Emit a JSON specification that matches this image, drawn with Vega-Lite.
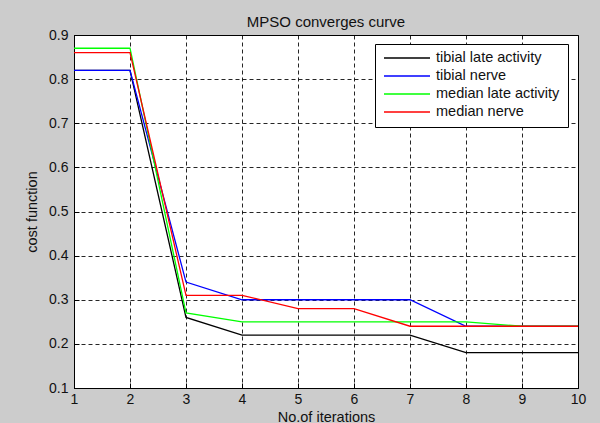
{
  "$schema": "https://vega.github.io/schema/vega-lite/v6.json",
  "autosize": {"type": "none"},
  "width": 504,
  "height": 353,
  "padding": {"left": 74, "top": 35, "right": 22, "bottom": 35},
  "background": "#cccccc",
  "title": {"text": "MPSO converges curve", "fontSize": 15, "fontWeight": "normal", "font": "Liberation Sans", "color": "#111", "offset": -2},
  "config": {
    "view": {"fill": "white", "stroke": "black", "strokeWidth": 1},
    "font": "Liberation Sans"
  },
  "data": {"values": [
    {"iter": 1, "cost": 0.82, "series": "tibial late activity"},
    {"iter": 2, "cost": 0.82, "series": "tibial late activity"},
    {"iter": 3, "cost": 0.26, "series": "tibial late activity"},
    {"iter": 4, "cost": 0.22, "series": "tibial late activity"},
    {"iter": 5, "cost": 0.22, "series": "tibial late activity"},
    {"iter": 6, "cost": 0.22, "series": "tibial late activity"},
    {"iter": 7, "cost": 0.22, "series": "tibial late activity"},
    {"iter": 8, "cost": 0.18, "series": "tibial late activity"},
    {"iter": 9, "cost": 0.18, "series": "tibial late activity"},
    {"iter": 10, "cost": 0.18, "series": "tibial late activity"},
    {"iter": 1, "cost": 0.82, "series": "tibial nerve"},
    {"iter": 2, "cost": 0.82, "series": "tibial nerve"},
    {"iter": 3, "cost": 0.34, "series": "tibial nerve"},
    {"iter": 4, "cost": 0.30, "series": "tibial nerve"},
    {"iter": 5, "cost": 0.30, "series": "tibial nerve"},
    {"iter": 6, "cost": 0.30, "series": "tibial nerve"},
    {"iter": 7, "cost": 0.30, "series": "tibial nerve"},
    {"iter": 8, "cost": 0.24, "series": "tibial nerve"},
    {"iter": 9, "cost": 0.24, "series": "tibial nerve"},
    {"iter": 10, "cost": 0.24, "series": "tibial nerve"},
    {"iter": 1, "cost": 0.87, "series": "median late activity"},
    {"iter": 2, "cost": 0.87, "series": "median late activity"},
    {"iter": 3, "cost": 0.27, "series": "median late activity"},
    {"iter": 4, "cost": 0.25, "series": "median late activity"},
    {"iter": 5, "cost": 0.25, "series": "median late activity"},
    {"iter": 6, "cost": 0.25, "series": "median late activity"},
    {"iter": 7, "cost": 0.25, "series": "median late activity"},
    {"iter": 8, "cost": 0.25, "series": "median late activity"},
    {"iter": 9, "cost": 0.24, "series": "median late activity"},
    {"iter": 10, "cost": 0.24, "series": "median late activity"},
    {"iter": 1, "cost": 0.86, "series": "median nerve"},
    {"iter": 2, "cost": 0.86, "series": "median nerve"},
    {"iter": 3, "cost": 0.31, "series": "median nerve"},
    {"iter": 4, "cost": 0.31, "series": "median nerve"},
    {"iter": 5, "cost": 0.28, "series": "median nerve"},
    {"iter": 6, "cost": 0.28, "series": "median nerve"},
    {"iter": 7, "cost": 0.24, "series": "median nerve"},
    {"iter": 8, "cost": 0.24, "series": "median nerve"},
    {"iter": 9, "cost": 0.24, "series": "median nerve"},
    {"iter": 10, "cost": 0.24, "series": "median nerve"}
  ]},
  "mark": {"type": "line", "strokeWidth": 1.3},
  "encoding": {
    "x": {
      "field": "iter", "type": "quantitative",
      "scale": {"domain": [1, 10], "nice": false, "zero": false},
      "axis": {
        "title": "No.of iterations", "titleFontSize": 14.5, "titleFontWeight": "normal", "titleColor": "#111", "titlePadding": 4,
        "values": [1,2,3,4,5,6,7,8,9,10], "format": "d",
        "labelFontSize": 14, "labelColor": "#111", "labelPadding": 9,
        "grid": true, "gridColor": "#000", "gridDash": [4, 3], "gridOpacity": 0.85,
        "tickSize": -5, "tickColor": "#000", "domainColor": "#000",
        "labelFlush": false
      }
    },
    "y": {
      "field": "cost", "type": "quantitative",
      "scale": {"domain": [0.1, 0.9], "nice": false, "zero": false},
      "axis": {
        "title": "cost function", "titleFontSize": 14.5, "titleFontWeight": "normal", "titleColor": "#111", "titlePadding": 9,
        "values": [0.1,0.2,0.3,0.4,0.5,0.6,0.7,0.8,0.9], "format": ".1f",
        "labelFontSize": 14, "labelColor": "#111", "labelPadding": 11,
        "grid": true, "gridColor": "#000", "gridDash": [4, 3], "gridOpacity": 0.85,
        "tickSize": -5, "tickColor": "#000", "domainColor": "#000",
        "labelFlush": false
      }
    },
    "color": {
      "field": "series", "type": "nominal",
      "scale": {
        "domain": ["tibial late activity", "tibial nerve", "median late activity", "median nerve"],
        "range": ["#000000", "#0000ff", "#00ff00", "#ff0000"]
      },
      "legend": {
        "title": null, "orient": "none", "legendX": 301, "legendY": 9,
        "symbolType": "stroke", "symbolSize": 2116, "symbolStrokeWidth": 1.3, "clipHeight": 12,
        "labelFontSize": 14.5, "labelColor": "#111", "labelLimit": 300,
        "fillColor": "white", "strokeColor": "#000", "padding": 8, "rowPadding": 3,
        "labelOffset": 5, "cornerRadius": 0
      }
    }
  }
}
